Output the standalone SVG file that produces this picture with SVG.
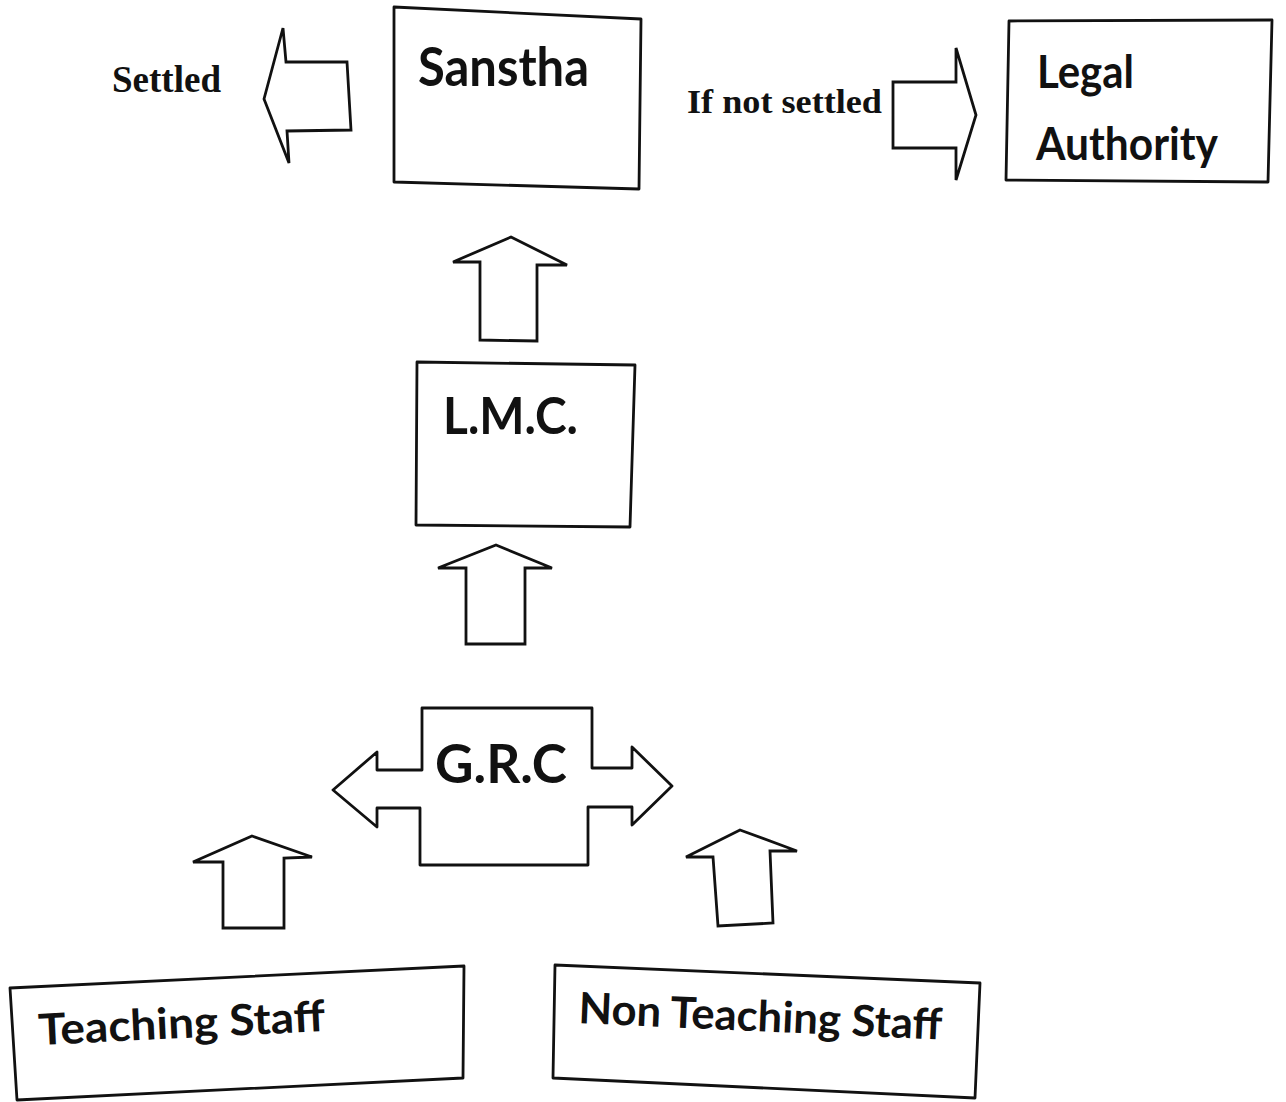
<svg xmlns="http://www.w3.org/2000/svg" width="1286" height="1102" viewBox="0 0 1286 1102">
<style>
.box{fill:#fff;stroke:#111;stroke-width:2.8;stroke-linejoin:round}
.arr{fill:#fff;stroke:#111;stroke-width:2.8;stroke-linejoin:miter}
.sans{font-family:Lato,"Open Sans","Liberation Sans",sans-serif;font-weight:bold;fill:#111}
.serif{font-family:"Liberation Serif","Times New Roman",serif;font-weight:bold;fill:#111}
</style>
<rect width="1286" height="1102" fill="#fff"/>
<g id="connectors">
<polygon class="arr" points="264,99 283,28 286,62 347,62 351,130 287,131 289,163"/>
<polygon class="arr" points="893,82 956,82 956,48 976,115 956,180 956,148 893,148"/>
<polygon class="arr" points="511,237 567,265 537,265 537,341 480,340 480,262 453,262"/>
<polygon class="arr" points="496,545 552,568 525,568 525,644 466,644 466,568 438,568"/>
<polygon class="arr" points="252,836 312,857 284,858 284,928 223,928 223,862 193,862"/>
<polygon class="arr" points="740,830 797,851 770,851 773,923 718,926 713,857 686,857"/>
</g>
<g id="settled-label">
<text class="serif" x="112" y="92" font-size="37" textLength="109" lengthAdjust="spacingAndGlyphs">Settled</text>
</g>
<g id="if-not-settled-label">
<text class="serif" x="687" y="113" font-size="34" textLength="195" lengthAdjust="spacingAndGlyphs">If not settled</text>
</g>
<g id="sanstha">
<polygon class="box" points="394,7 641,19 639,189 394,182"/>
<text class="sans" x="418" y="86" font-size="53" textLength="171" lengthAdjust="spacingAndGlyphs">Sanstha</text>
</g>
<g id="legal-authority">
<polygon class="box" points="1009,21 1272,20 1268,182 1006,180"/>
<text class="sans" x="1037" y="88" font-size="45" textLength="97" lengthAdjust="spacingAndGlyphs">Legal</text>
<text class="sans" x="1036" y="160" font-size="45" textLength="182" lengthAdjust="spacingAndGlyphs">Authority</text>
</g>
<g id="lmc">
<polygon class="box" points="417,362 635,365 630,527 416,525"/>
<text class="sans" x="443" y="434" font-size="51" textLength="135" lengthAdjust="spacingAndGlyphs">L.M.C.</text>
</g>
<g id="grc">
<polygon class="box" points="422,708 592,708 592,768 632,768 632,747 672,786 632,825 632,807 588,807 588,865 420,865 420,808 377,808 377,827 333,790 377,752 377,770 422,770"/>
<text class="sans" x="435" y="783" font-size="53" textLength="132" lengthAdjust="spacingAndGlyphs">G.R.C</text>
</g>
<g id="teaching-staff">
<polygon class="box" points="10,988 464,966 463,1078 17,1100"/>
<text class="sans" x="39" y="1045" font-size="43" textLength="287" lengthAdjust="spacingAndGlyphs" transform="rotate(-2.8 39 1045)">Teaching Staff</text>
</g>
<g id="non-teaching-staff">
<polygon class="box" points="555,965 980,983 975,1098 553,1078"/>
<text class="sans" x="578" y="1023" font-size="43" textLength="364" lengthAdjust="spacingAndGlyphs" transform="rotate(2.6 578 1023)">Non Teaching Staff</text>
</g>
</svg>
